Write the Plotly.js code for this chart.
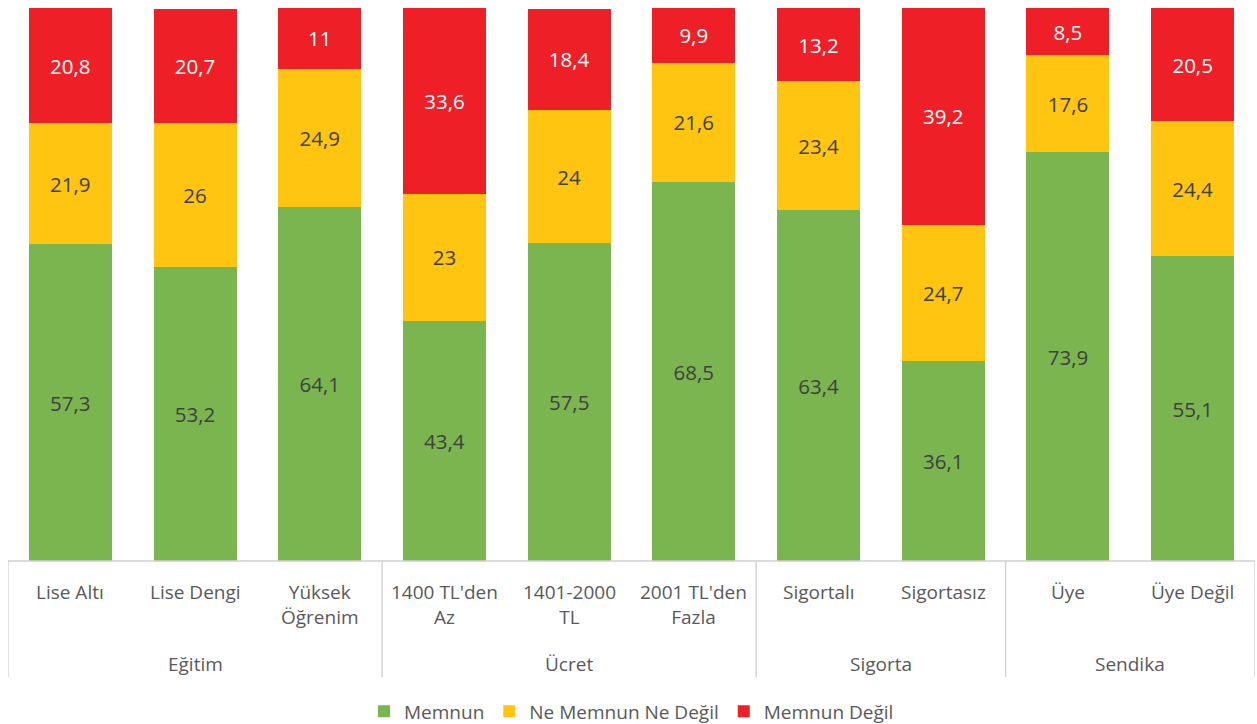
<!DOCTYPE html>
<html>
<head>
<meta charset="utf-8">
<script src="https://cdn.plot.ly/plotly-3.0.1.min.js"></script>
<style>html,body{margin:0;padding:0;background:#fff;}#chart{width:1257px;height:724px;}</style>
</head>
<body>
<div id="chart"></div>
<script>
const categories = ["Lise Altı", "Lise Dengi", "Yüksek<br>Öğrenim", "1400 TL'den<br>Az", "1401-2000<br>TL", "2001 TL'den<br>Fazla", "Sigortalı", "Sigortasız", "Üye", "Üye Değil"];
const groups = ["Eğitim", "Ücret", "Sigorta", "Sendika"];
const groupSpans = [[0, 2], [3, 5], [6, 7], [8, 9]];
const memnun = [57.3, 53.2, 64.1, 43.4, 57.5, 68.5, 63.4, 36.1, 73.9, 55.1];
const neMemnun = [21.9, 26, 24.9, 23, 24, 21.6, 23.4, 24.7, 17.6, 24.4];
const memnunDegil = [20.8, 20.7, 11, 33.6, 18.4, 9.9, 13.2, 39.2, 8.5, 20.5];
const seriesNames = ["Memnun", "Ne Memnun Ne Değil", "Memnun Değil"];

const FONT = "Open Sans, Noto Sans, sans-serif";
const xs = categories.map((_, i) => i);
const fmt = arr => arr.map(v => String(v).replace('.', ','));

function trace(vals, name, color, txtColor) {
  return {
    type: 'bar', x: xs, y: vals, name: name,
    marker: {color: color},
    text: fmt(vals), textposition: 'inside', insidetextanchor: 'middle',
    textfont: {family: FONT, size: 20.5, color: txtColor},
    hoverinfo: 'none', width: 0.665, cliponaxis: false
  };
}

const data = [
  trace(memnun, seriesNames[0], '#7AB550', '#404040'),
  trace(neMemnun, seriesNames[1], '#FFC510', '#404040'),
  trace(memnunDegil, seriesNames[2], '#EE1F26', '#FFFFFF')
];

const annotations = [];
categories.forEach((c, i) => {
  annotations.push({x: i, xref: 'x', y: -0.029, yref: 'paper', yanchor: 'top', text: c,
    showarrow: false, font: {family: FONT, size: 19, color: '#595959'}});
});
groups.forEach((g, k) => {
  const [a, b] = groupSpans[k];
  annotations.push({x: (a + b) / 2, xref: 'x', y: -0.186, yref: 'paper', yanchor: 'middle', text: g,
    showarrow: false, font: {family: FONT, size: 19, color: '#595959'}});
});

const shapes = [];
const lineStyle = {color: '#D0D0D0', width: 1.3};
shapes.push({type: 'line', xref: 'paper', yref: 'paper', x0: 0, x1: 1, y0: 0, y1: 0, line: lineStyle});
const seps = [-0.5].concat(groupSpans.map(s => s[1] + 0.5));
seps.forEach(s => {
  shapes.push({type: 'line', xref: 'x', yref: 'paper', x0: s, x1: s, y0: 0, y1: -0.21, line: lineStyle});
});

const layout = {
  width: 1257, height: 724,
  margin: {l: 8, r: 1.5, t: 8, b: 163, autoexpand: false},
  barmode: 'stack',
  paper_bgcolor: '#fff', plot_bgcolor: '#fff',
  xaxis: {range: [-0.5, 9.5], showticklabels: false, showgrid: false, zeroline: false, ticks: '', fixedrange: true},
  yaxis: {range: [0, 100], showticklabels: false, showgrid: false, zeroline: false, ticks: '', fixedrange: true},
  showlegend: true,
  legend: {orientation: 'h', x: 0.5, xanchor: 'center', y: -0.272, yanchor: 'middle', traceorder: 'normal',
    font: {family: FONT, size: 19, color: '#595959'}, itemwidth: 30},
  annotations: annotations,
  shapes: shapes,
  uniformtext: {mode: false}
};

Plotly.newPlot('chart', data, layout, {displayModeBar: false, staticPlot: true});
</script>
</body>
</html>
